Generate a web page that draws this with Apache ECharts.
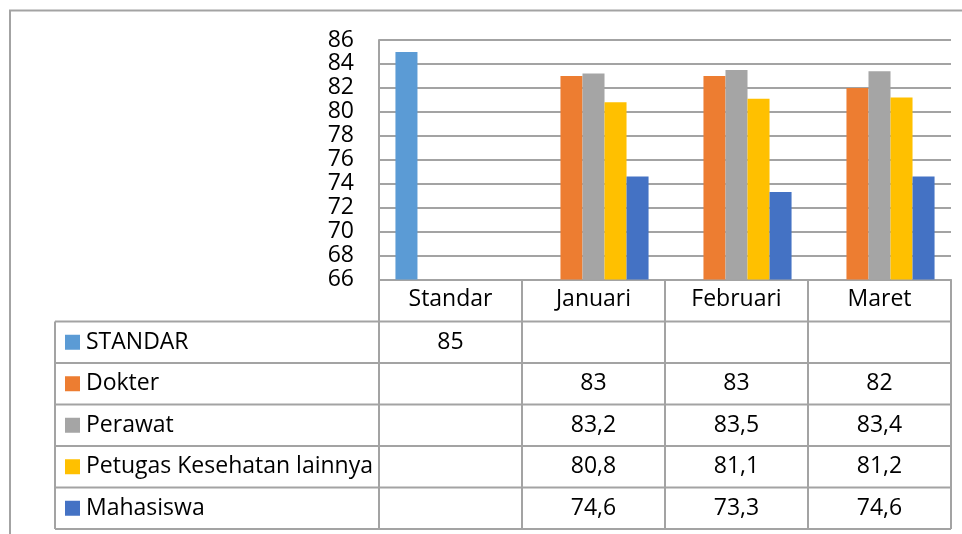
<!DOCTYPE html>
<html>
<head>
<meta charset="utf-8">
<script src="https://cdn.jsdelivr.net/npm/echarts@6/dist/echarts.min.js"></script>
<style>
  html, body { margin: 0; padding: 0; background: #fff; }
  #chart { width: 962px; height: 534px; }
</style>
</head>
<body>
<div id="chart"></div>
<script>
// data
const categories = ['Standar', 'Januari', 'Februari', 'Maret']
const seriesNames = ['STANDAR', 'Dokter', 'Perawat', 'Petugas Kesehatan lainnya', 'Mahasiswa']
const standar = [85, null, null, null]
const dokter = [null, 83, 83, 82]
const perawat = [null, 83.2, 83.5, 83.4]
const petugas = [null, 80.8, 81.1, 81.2]
const mahasiswa = [null, 74.6, 73.3, 74.6]
const yMin = 66
const yMax = 86
const yStep = 2

const colors = ['#5B9BD5', '#ED7D31', '#A5A5A5', '#FFC000', '#4472C4']
const allValues = [standar, dokter, perawat, petugas, mahasiswa]

const lineColor = '#a3a3a3'
const font = '"Open Sans", sans-serif'
const fontSize = 23
const tableLeft = 55
const headerH = 42
const rowH = 41.5

const chart = echarts.init(document.getElementById('chart'))

chart.setOption({
  animation: false,
  color: colors,
  grid: { left: 379, right: 11, top: 40, bottom: 254.5 },
  xAxis: {
    type: 'category',
    data: categories,
    axisLine: { show: true, lineStyle: { color: lineColor, width: 2 } },
    axisTick: { show: true, length: headerH + rowH * 5, lineStyle: { color: lineColor, width: 2 } },
    axisLabel: { color: '#000', fontFamily: font, fontSize: fontSize, margin: 8 },
  },
  yAxis: {
    type: 'value',
    min: yMin,
    max: yMax,
    interval: yStep,
    axisLine: { show: true, lineStyle: { color: lineColor, width: 2 } },
    axisTick: { show: false },
    axisLabel: { color: '#000', fontFamily: font, fontSize: fontSize, margin: 25, lineHeight: 22 },
    splitLine: { lineStyle: { color: lineColor, width: 2 } },
  },
  series: seriesNames.map((name, i) => ({
    name: name,
    type: 'bar',
    data: allValues[i],
    barGap: 0,
    barCategoryGap: '23%',
    itemStyle: { color: colors[i] },
  })),
})

// data table under the plot
function buildTable() {
  const top = chart.getHeight() - 254.5 + headerH
  const right = chart.getWidth() - 11
  const els = []
  // frame of the whole chart area
  els.push({
    type: 'polyline',
    shape: { points: [[10, 534], [10, 10.5], [962, 10.5]] },
    style: { stroke: lineColor, lineWidth: 2, fill: null },
  })
  // left edge of the table
  els.push({
    type: 'line',
    shape: { x1: tableLeft, y1: top, x2: tableLeft, y2: top + rowH * 5 },
    style: { stroke: lineColor, lineWidth: 2 },
  })
  for (let r = 0; r <= 5; r++) {
    const y = top + rowH * r
    els.push({
      type: 'line',
      shape: { x1: tableLeft, y1: y, x2: right, y2: y },
      style: { stroke: lineColor, lineWidth: 2 },
    })
  }
  seriesNames.forEach((name, r) => {
    const cy = top + rowH * r + rowH / 2
    els.push({
      type: 'rect',
      shape: { x: 65, y: cy - 7.5, width: 15, height: 15 },
      style: { fill: colors[r] },
    })
    els.push({
      type: 'text',
      style: {
        x: 86, y: cy, text: name, fill: '#000',
        font: fontSize + 'px ' + font, textVerticalAlign: 'middle',
      },
    })
    allValues[r].forEach((v, c) => {
      if (v == null) return
      const cx = chart.convertToPixel({ xAxisIndex: 0 }, categories[c])
      els.push({
        type: 'text',
        style: {
          x: cx, y: cy, text: String(v).replace('.', ','), fill: '#000',
          font: fontSize + 'px ' + font, textAlign: 'center', textVerticalAlign: 'middle',
        },
      })
    })
  })
  chart.setOption({ graphic: els })
}
buildTable()
</script>
</body>
</html>
